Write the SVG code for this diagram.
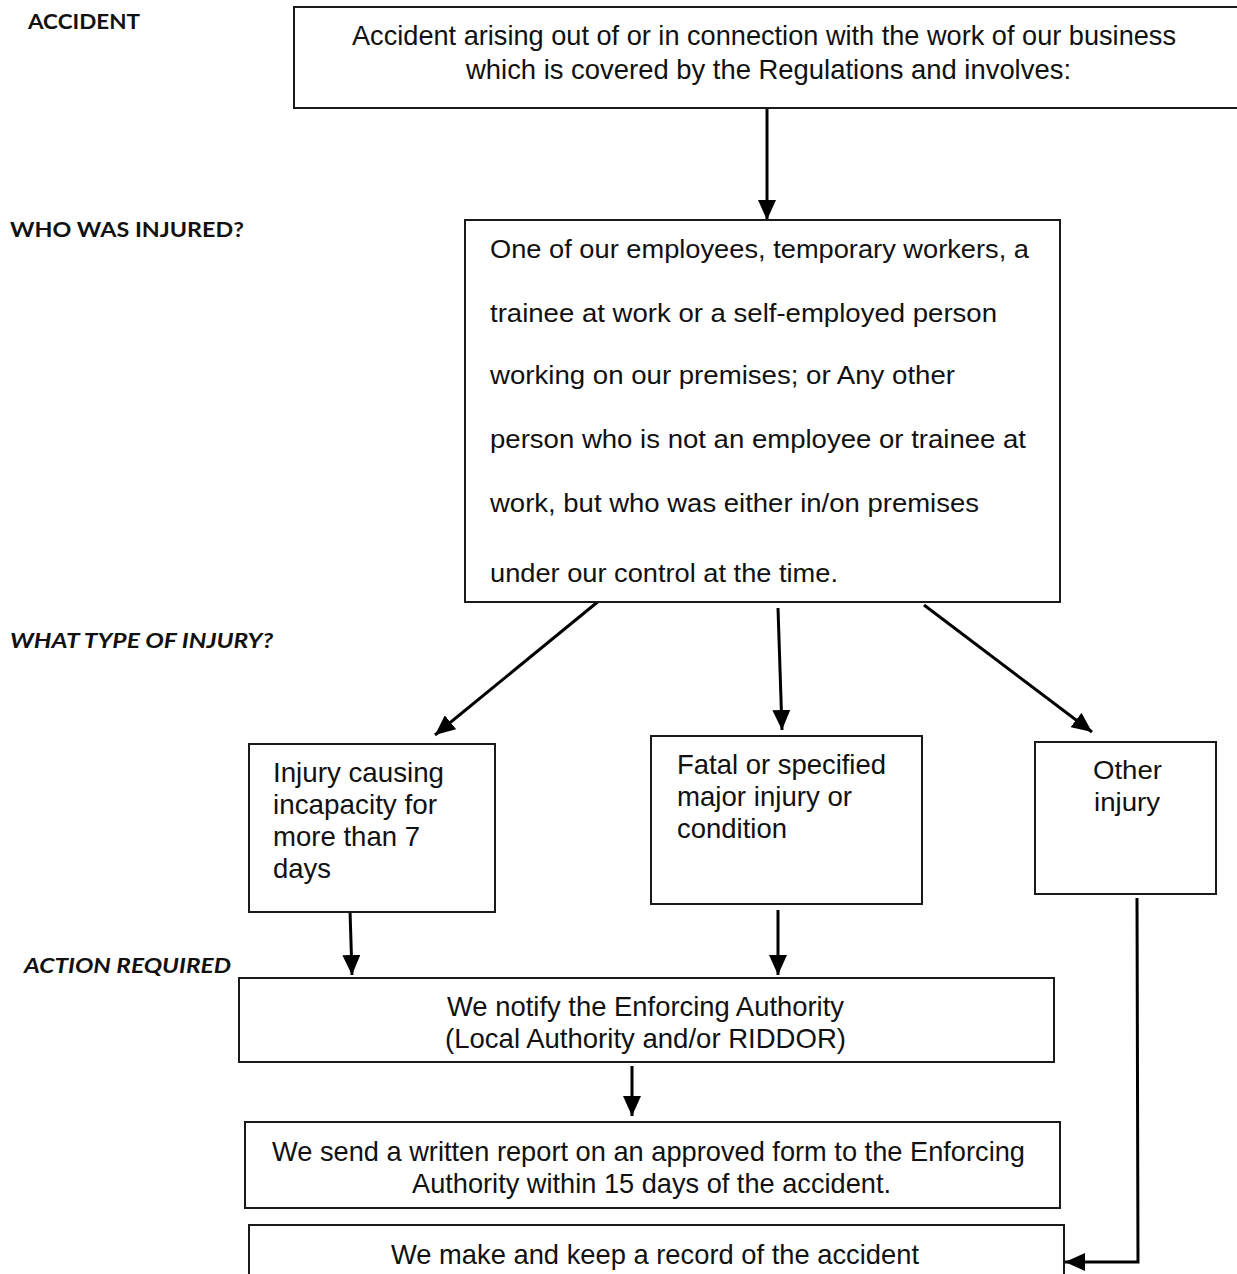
<svg xmlns="http://www.w3.org/2000/svg" width="1237" height="1274" viewBox="0 0 1237 1274">
<style>
.box{fill:#fff;stroke:#1a1a1a;stroke-width:2}
.t{font-family:"Liberation Sans",Arial,sans-serif;font-size:28px;fill:#111}
.tn{font-family:"Liberation Sans",Arial,sans-serif;font-size:25px;fill:#111}
.lab{font-family:Lato,"Open Sans",sans-serif;font-size:21px;font-weight:bold;fill:#111}
.labi{font-family:Lato,"Open Sans",sans-serif;font-size:21px;font-weight:bold;font-style:italic;fill:#111}
.c{fill:none;stroke:#000;stroke-width:3}
</style>
<defs>
<marker id="ah" viewBox="0 0 20 18" refX="20" refY="9" markerWidth="20" markerHeight="18" markerUnits="userSpaceOnUse" orient="auto">
<path d="M0,0 L20,9 L0,18 Z" fill="#000"/>
</marker>
</defs>

<g id="labels">
<text class="lab" x="28" y="29" textLength="112" lengthAdjust="spacingAndGlyphs">ACCIDENT</text>
<text class="lab" x="10" y="237" textLength="234" lengthAdjust="spacingAndGlyphs">WHO WAS INJURED?</text>
<text class="labi" x="10" y="648" textLength="263" lengthAdjust="spacingAndGlyphs">WHAT TYPE OF INJURY?</text>
<text class="labi" x="24" y="973" textLength="207" lengthAdjust="spacingAndGlyphs">ACTION REQUIRED</text>
</g>

<g id="connectors">
<line class="c" x1="767" y1="108" x2="767" y2="220" marker-end="url(#ah)"/>
<line class="c" x1="600" y1="600" x2="435" y2="735" marker-end="url(#ah)"/>
<line class="c" x1="778" y1="608" x2="782" y2="730" marker-end="url(#ah)"/>
<line class="c" x1="924" y1="605" x2="1092" y2="732" marker-end="url(#ah)"/>
<line class="c" x1="350" y1="910" x2="352" y2="975" marker-end="url(#ah)"/>
<line class="c" x1="778" y1="910" x2="778" y2="975" marker-end="url(#ah)"/>
<line class="c" x1="632" y1="1066" x2="632" y2="1116" marker-end="url(#ah)"/>
<polyline class="c" points="1137,898 1138,1262 1065,1262" marker-end="url(#ah)"/>
</g>

<g id="n1">
<rect class="box" x="294" y="7" width="950" height="101"/>
<text class="t" x="352" y="45" textLength="824" lengthAdjust="spacingAndGlyphs">Accident arising out of or in connection with the work of our business</text>
<text class="t" x="466" y="79" textLength="605" lengthAdjust="spacingAndGlyphs">which is covered by the Regulations and involves:</text>
</g>

<g id="n2">
<rect class="box" x="465" y="220" width="595" height="382"/>
<text class="tn" x="490" y="258" textLength="539" lengthAdjust="spacingAndGlyphs">One of our employees, temporary workers, a</text>
<text class="tn" x="490" y="322" textLength="507" lengthAdjust="spacingAndGlyphs">trainee at work or a self-employed person</text>
<text class="tn" x="490" y="384" textLength="465" lengthAdjust="spacingAndGlyphs">working on our premises; or Any other</text>
<text class="tn" x="490" y="448" textLength="536" lengthAdjust="spacingAndGlyphs">person who is not an employee or trainee at</text>
<text class="tn" x="490" y="512" textLength="489" lengthAdjust="spacingAndGlyphs">work, but who was either in/on premises</text>
<text class="tn" x="490" y="582" textLength="348" lengthAdjust="spacingAndGlyphs">under our control at the time.</text>
</g>

<g id="n3">
<rect class="box" x="249" y="744" width="246" height="168"/>
<text class="t" x="273" y="782" textLength="171" lengthAdjust="spacingAndGlyphs">Injury causing</text>
<text class="t" x="273" y="814" textLength="164" lengthAdjust="spacingAndGlyphs">incapacity for</text>
<text class="t" x="273" y="846" textLength="147" lengthAdjust="spacingAndGlyphs">more than 7</text>
<text class="t" x="273" y="878" textLength="58" lengthAdjust="spacingAndGlyphs">days</text>
</g>

<g id="n4">
<rect class="box" x="651" y="736" width="271" height="168"/>
<text class="t" x="677" y="774" textLength="209" lengthAdjust="spacingAndGlyphs">Fatal or specified</text>
<text class="t" x="677" y="806" textLength="175" lengthAdjust="spacingAndGlyphs">major injury or</text>
<text class="t" x="677" y="838" textLength="110" lengthAdjust="spacingAndGlyphs">condition</text>
</g>

<g id="n5">
<rect class="box" x="1035" y="742" width="181" height="152"/>
<text class="tn" x="1093" y="779" textLength="69" lengthAdjust="spacingAndGlyphs">Other</text>
<text class="tn" x="1094" y="811" textLength="66" lengthAdjust="spacingAndGlyphs">injury</text>
</g>

<g id="n6">
<rect class="box" x="239" y="978" width="815" height="84"/>
<text class="t" x="447" y="1016" textLength="397" lengthAdjust="spacingAndGlyphs">We notify the Enforcing Authority</text>
<text class="t" x="445" y="1048" textLength="401" lengthAdjust="spacingAndGlyphs">(Local Authority and/or RIDDOR)</text>
</g>

<g id="n7">
<rect class="box" x="245" y="1122" width="815" height="86"/>
<text class="t" x="272" y="1161" textLength="753" lengthAdjust="spacingAndGlyphs">We send a written report on an approved form to the Enforcing</text>
<text class="t" x="412" y="1193" textLength="479" lengthAdjust="spacingAndGlyphs">Authority within 15 days of the accident.</text>
</g>

<g id="n8">
<rect class="box" x="249" y="1225" width="815" height="60"/>
<text class="t" x="391" y="1264" textLength="528" lengthAdjust="spacingAndGlyphs">We make and keep a record of the accident</text>
</g>
</svg>
